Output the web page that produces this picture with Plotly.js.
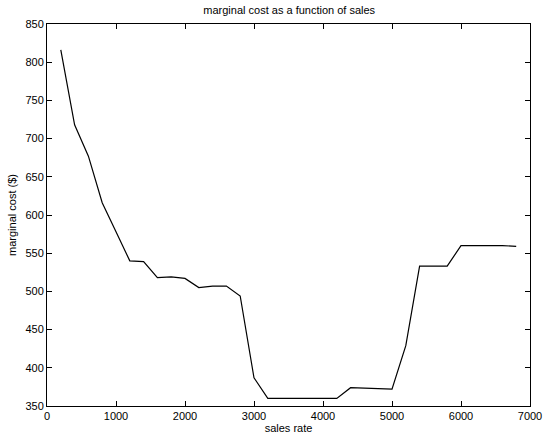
<!DOCTYPE html>
<html><head><meta charset="utf-8">
<script src="https://cdn.plot.ly/plotly-3.0.1.min.js"></script>
<style>html,body{margin:0;padding:0;background:#fff}#c{width:553px;height:438px}</style>
</head><body><div id="c"></div>
<script>
const salesRate = [200,400,600,800,1000,1200,1400,1600,1800,2000,2200,2400,2600,2800,3000,3200,3400,3600,3800,4000,4200,4400,4600,4800,5000,5200,5400,5600,5800,6000,6200,6400,6600,6800];
const marginalCost = [816,718,677,616,578,540,539,518,519,517,505,507,507,494,387,360,360,360,360,360,360,374,373.5,373,372,429,533,533,533,560,560,560,560,559];
const xTicks = [0,1000,2000,3000,4000,5000,6000,7000];
const yTicks = [350,400,450,500,550,600,650,700,750,800,850];

const font = {family:'Liberation Sans, Arial, sans-serif', size:11, color:'#000'};
Plotly.newPlot('c', [{
  x: salesRate, y: marginalCost, type:'scatter', mode:'lines',
  line:{color:'#000', width:1.2}, hoverinfo:'skip'
}], {
  width:553, height:438,
  margin:{l:47, r:23, t:24, b:32},
  paper_bgcolor:'#fff', plot_bgcolor:'#fff',
  font: font,
  showlegend:false,
  title:{text:'marginal cost as a function of sales', font:{family:font.family,size:11,color:'#000'}, x:0.523, xanchor:'center', y:0.985, yanchor:'top'},
  xaxis:{range:[0,7000], tickvals:xTicks, ticks:'inside', ticklen:5, tickcolor:'#000',
    showline:true, linecolor:'#000', linewidth:1, mirror:'ticks', showgrid:false, zeroline:false,
    tickfont:font, title:{text:'sales rate', font:font, standoff:2}},
  yaxis:{range:[350,850], tickvals:yTicks, ticks:'inside', ticklen:5, tickcolor:'#000',
    showline:true, linecolor:'#000', linewidth:1, mirror:'ticks', showgrid:false, zeroline:false,
    tickfont:font, title:{text:'marginal cost ($)', font:font, standoff:6}}
}, {staticPlot:true, displayModeBar:false});
</script></body></html>
